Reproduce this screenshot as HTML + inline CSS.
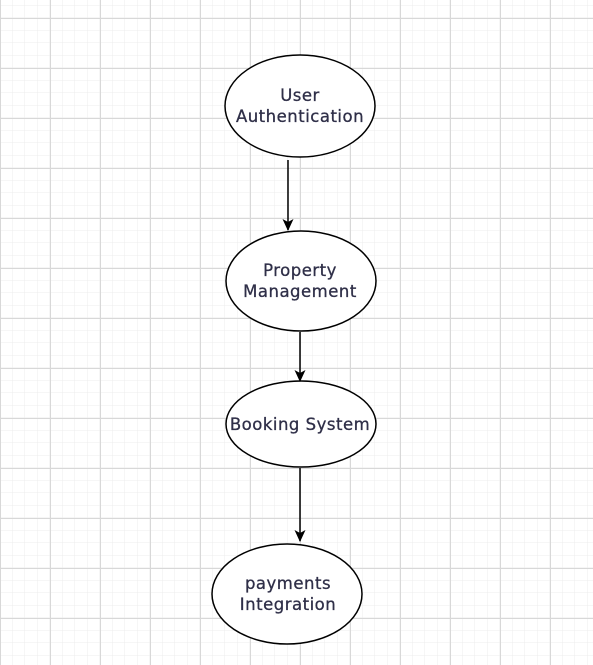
<!DOCTYPE html>
<html><head><style>
html,body{margin:0;padding:0;width:593px;height:665px;overflow:hidden;background:#fff}
</style></head><body>
<svg width="593" height="665" xmlns="http://www.w3.org/2000/svg" font-family="DejaVu Sans, sans-serif">
<defs>
<pattern id="minor" x="0" y="5.5" width="12.5" height="12.5" patternUnits="userSpaceOnUse">
<path d="M12.5 0V12.5M0 12.5H12.5" stroke="#ececec" stroke-width="1" fill="none"/>
</pattern>
<pattern id="major" x="0" y="18" width="50" height="50" patternUnits="userSpaceOnUse">
<path d="M0.5 0V50M0 0.5H50" stroke="#d8d8d8" stroke-width="1" fill="none"/>
</pattern>
<marker id="ah" markerWidth="12" markerHeight="12" refX="11" refY="5.5" orient="auto" markerUnits="userSpaceOnUse">
<path d="M0 0L12 5.5L0 11L3 5.5Z" fill="#000"/>
</marker>
</defs>
<rect width="593" height="665" fill="url(#minor)"/>
<rect width="593" height="665" fill="url(#major)"/>
<g stroke="#000" stroke-width="1.5" fill="#fff">
<ellipse cx="300" cy="106" rx="75" ry="51"/>
<ellipse cx="301" cy="281" rx="75" ry="50"/>
<ellipse cx="301" cy="424" rx="75" ry="43"/>
<ellipse cx="287" cy="594" rx="75" ry="50"/>
</g>
<g stroke="#000" stroke-width="1.5" marker-end="url(#ah)">
<line x1="288" y1="160" x2="288" y2="230"/>
<line x1="300" y1="332" x2="300" y2="381"/>
<line x1="300" y1="468" x2="300" y2="541"/>
</g>
<g fill="#2f2f48" stroke="#2f2f48" stroke-width="0.3" font-size="16.5" letter-spacing="0.5" text-anchor="middle">
<text x="300" y="101">User</text>
<text x="300" y="122">Authentication</text>
<text x="300" y="276">Property</text>
<text x="300" y="297">Management</text>
<text x="300" y="430">Booking System</text>
<text x="288" y="589">payments</text>
<text x="288" y="610">Integration</text>
</g>
</svg>
</body></html>
